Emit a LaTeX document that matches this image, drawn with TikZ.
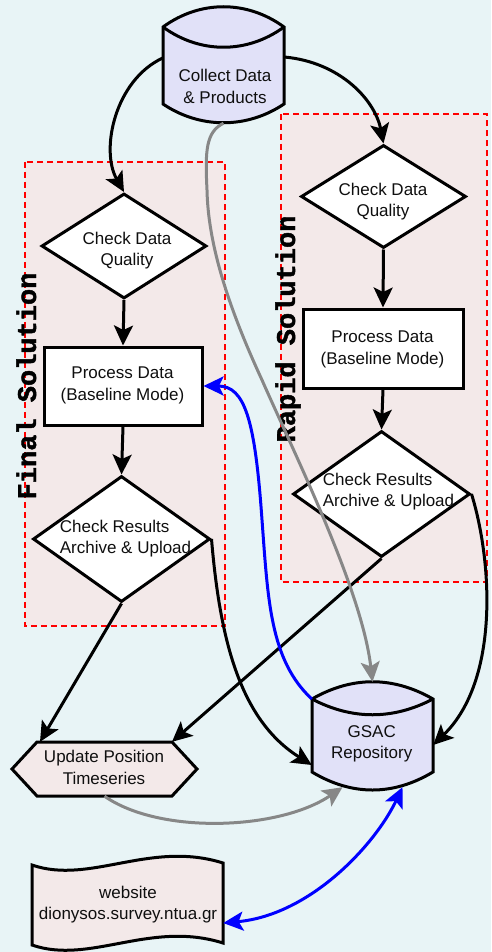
\documentclass[tikz,border=0pt]{standalone}
\usepackage{fontspec}
\setmainfont{Liberation Sans}
\newfontfamily\labelmono[BoldFont={Liberation Mono Bold}, BoldFeatures={FakeBold=1.6}]{Liberation Mono}
\usetikzlibrary{arrows.meta,shapes.geometric}

\definecolor{bgblue}{RGB}{232,244,246}
\definecolor{boxpink}{RGB}{243,233,233}
\definecolor{cyllav}{RGB}{225,225,248}
\definecolor{dashred}{RGB}{255,0,0}
\definecolor{linegray}{RGB}{135,135,135}
\definecolor{linkblue}{RGB}{0,0,255}
\definecolor{inkdark}{RGB}{15,15,15}

\begin{document}
\begin{tikzpicture}[x=1pt,y=1pt,
  >={Stealth[length=20pt,width=19pt,inset=4.5pt]},
  txt/.style={inner sep=0pt, align=center, text=inkdark,
              font=\fontsize{17}{21.5}\selectfont},
  txtleft/.style={txt, align=left},
  outline/.style={draw=black, line width=3pt, line join=miter},
  diamondbox/.style={shape=diamond, outline, fill=white, inner sep=0pt},
  rectbox/.style={shape=rectangle, outline, fill=white, inner sep=0pt},
  anchorbox/.style={shape=rectangle, inner sep=0pt},
  groupbox/.style={fill=boxpink, draw=dashred, line width=2.9pt,
                   dash pattern=on 6pt off 4pt},
  grouplabel/.style={rotate=90, anchor=base, inner sep=0pt, text=black,
                     font=\labelmono\bfseries\fontsize{27}{30}\selectfont},
  conn/.style={draw=black, line width=3pt, ->},
  grayconn/.style={draw=linegray, line width=3pt, ->},
  blueconn/.style={draw=linkblue, line width=3pt, ->},
  bluetwoway/.style={draw=linkblue, line width=3pt, <->},
]

% page and background
\useasboundingbox (0,0) rectangle (491,-952);
\fill[bgblue] (0,0) rectangle (491,-952);

% dashed solution groups
\draw[groupbox] (25,-162) rectangle (225,-626);
\draw[groupbox] (281,-114) rectangle (487,-582);
\node[grouplabel] (finalLbl) at (36,-386) {Final Solution};
\node[grouplabel] (rapidLbl) at (295,-329) {Rapid Solution};

% data source cylinder
\draw[outline, fill=cyllav]
  (163,-27) .. controls (200,0) and (247,0) .. (284,-27)
  -- (284,-104) .. controls (247,-129) and (200,-129) .. (163,-104) -- cycle;
\draw[outline] (163,-27) .. controls (200,-54) and (247,-54) .. (284,-27);
\node[anchorbox, minimum width=121pt, minimum height=116pt] (collect) at (223.5,-65) {};
\node[txt] (collectTxt) at (225,-86.5) {Collect Data\\\& Products};

% repository cylinder
\draw[outline, fill=cyllav]
  (312,-699) .. controls (352,-676) and (393,-676) .. (433,-699)
  -- (433,-772) .. controls (393,-796) and (352,-796) .. (312,-772) -- cycle;
\draw[outline] (312,-699) .. controls (352,-720) and (393,-720) .. (433,-699);
\node[anchorbox, minimum width=121pt, minimum height=108pt] (gsac) at (372.5,-736) {};
\node[txt] (gsacTxt) at (371.7,-743.7) {GSAC\\Repository};

% timeseries hexagon
\draw[outline, fill=boxpink]
  (12,-769) -- (37,-742) -- (172,-742) -- (197,-769) -- (172,-796) -- (37,-796) -- cycle;
\node[anchorbox, minimum width=185pt, minimum height=54pt] (upd) at (104.5,-769) {};
\node[txt] (updTxt) at (104,-767.3) {Update Position\\Timeseries};

% website document
\draw[outline, fill=boxpink]
  (32,-865) .. controls (90,-885) and (150,-840) .. (223,-863)
  -- (223,-943) .. controls (150,-920) and (90,-965) .. (32,-945) -- cycle;
\node[anchorbox, minimum width=191pt, minimum height=80pt] (web) at (127.5,-904) {};
\node[txt] (webTxt) at (128,-904.4) {website\\dionysos.survey.ntua.gr};

% final solution column
\node[diamondbox, minimum width=165pt, minimum height=105pt] (lcdq) at (124,-246) {};
\node[txt] (lcdqTxt) at (127,-250.4) {Check Data\\Quality};
\node[rectbox, minimum width=158pt, minimum height=78pt] (lpd) at (123,-386) {};
\node[txt] (lpdTxt) at (122.5,-385.4) {Process Data\\(Baseline Mode)};
\node[diamondbox, minimum width=177pt, minimum height=126pt] (lcr) at (121.5,-539) {};
\node[txtleft] (lcrTxt) at (125.5,-538.4) {Check Results\\Archive \& Upload};

% rapid solution column
\node[diamondbox, minimum width=165pt, minimum height=103pt] (rcdq) at (383.5,-196.5) {};
\node[txt] (rcdqTxt) at (383,-201.4) {Check Data\\Quality};
\node[rectbox, minimum width=160pt, minimum height=79pt] (rpd) at (383,-348.5) {};
\node[txt] (rpdTxt) at (382.5,-349.4) {Process Data\\(Baseline Mode)};
\node[diamondbox, minimum width=177pt, minimum height=126pt] (rcr) at (381.5,-494) {};
\node[txtleft] (rcrTxt) at (388.5,-491.4) {Check Results\\Archive \& Upload};

% flow connectors
\draw[conn] ([yshift=7pt]collect.west) .. controls (115,-80) and (100,-150) .. (lcdq.north);
\draw[conn] ([yshift=8pt]collect.east) .. controls (340,-62) and (375,-100) .. (rcdq.north);
\draw[conn] (lcdq.south) -- (lpd.north);
\draw[conn] (lpd.south) -- (lcr.north);
\draw[conn] (rcdq.south) -- (rpd.north);
\draw[conn] (rpd.south) -- (rcr.north);
\draw[conn] (lcr.south) -- ([xshift=-64.5pt]upd.north);
\draw[conn] (rcr.south) -- ([xshift=67.5pt]upd.north);
\draw[conn] (lcr.east) .. controls (220,-640) and (240,-720) .. ([yshift=-29pt]gsac.west);
\draw[conn] (rcr.east) .. controls (492,-560) and (500,-680) .. ([yshift=-9pt]gsac.east);

% raw data and timeseries into the repository
\draw[grayconn] (collect.south)
  .. controls (206,-132) and (205,-150) .. (207,-190)
  .. controls (208,-240) and (225,-300) .. (262,-380)
  .. controls (295,-455) and (362,-590) .. (gsac.north);
\draw[grayconn] (upd.south) .. controls (160,-835) and (280,-830) .. ([xshift=-30pt,yshift=3pt]gsac.south);

% repository links
\draw[blueconn] ([yshift=37pt]gsac.west)
  .. controls (270,-660) and (268,-600) .. (262,-520)
  .. controls (255,-420) and (245,-386) .. (lpd.east);
\draw[bluetwoway] ([yshift=-19pt]web.east) .. controls (310,-915) and (375,-845) .. ([xshift=30pt,yshift=3pt]gsac.south);

\end{tikzpicture}
\end{document}
